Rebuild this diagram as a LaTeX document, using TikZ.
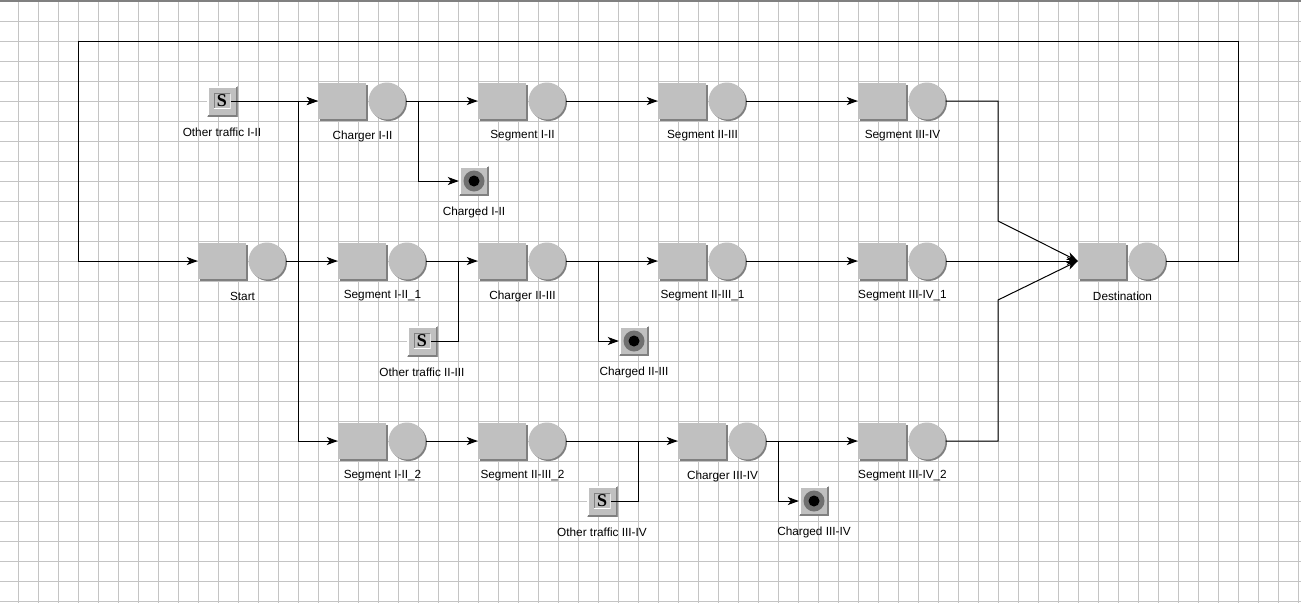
\documentclass[tikz,border=0pt]{standalone}
\usepackage{fontspec}
\setmainfont{Liberation Sans}
\newfontfamily\srcfont{Liberation Serif}
\usetikzlibrary{arrows.meta,shadows}

\definecolor{boxgray}{HTML}{C0C0C0}
\definecolor{shadegray}{HTML}{808080}
\definecolor{gridgray}{HTML}{C4C4C4}
\definecolor{ringgray}{HTML}{707070}

\begin{document}
\begin{tikzpicture}[
  x=1pt, y=-1pt,
  queue/.style={fill=boxgray, minimum width=48pt, minimum height=36pt, inner sep=0pt,
    drop shadow={shadow xshift=2pt, shadow yshift=-2pt, fill=shadegray, opacity=1}},
  server/.style={circle, fill=boxgray, minimum size=37pt, inner sep=0pt,
    drop shadow={shadow xshift=1.5pt, shadow yshift=-1.5pt, fill=shadegray, opacity=1}},
  bevel/.style={fill=boxgray, minimum size=31pt, inner sep=0pt,
    path picture={
      \draw[white, line width=2pt] ([shift={(1pt,1pt)}]path picture bounding box.south west)
        |- ([shift={(-1pt,-1pt)}]path picture bounding box.north east);
      \draw[shadegray, line width=2pt] ([shift={(1pt,1pt)}]path picture bounding box.south west)
        -| ([shift={(-1pt,-1pt)}]path picture bounding box.north east);
    }},
  srcin/.style={fill=boxgray, minimum width=17pt, minimum height=16pt, inner sep=0pt,
    font=\srcfont\bfseries\fontsize{18}{18}\selectfont,
    path picture={
      \draw[shadegray, line width=1pt] ([shift={(0.5pt,0.5pt)}]path picture bounding box.south west)
        |- ([shift={(-0.5pt,-0.5pt)}]path picture bounding box.north east);
      \draw[white, line width=1pt] ([shift={(0.5pt,0.5pt)}]path picture bounding box.south west)
        -| ([shift={(-0.5pt,-0.5pt)}]path picture bounding box.north east);
    }},
  sink/.style={bevel, minimum size=30pt},
  lbl/.style={font=\fontsize{11.8}{13}\selectfont, inner sep=0pt},
  gridline/.style={draw=gridgray, line width=1pt},
  line/.style={line width=1pt},
  flow/.style={line, -{Stealth[length=11pt, width=8pt, inset=3pt]}}
]

% fundo e grade
\fill[white] (0,0) rectangle (1301,603);
\useasboundingbox (0,0) rectangle (1301,603);
\foreach \k in {0,...,64}
  \draw[gridline] (18.5+20*\k,0) -- (18.5+20*\k,603);
\foreach \k in {0,...,29}
  \draw[gridline] (0,21.5+20*\k) -- (1301,21.5+20*\k);
\draw[draw=gray, line width=2pt] (0,1) -- (1301,1);

% filas (caixa + servidor)
\foreach \n/\x/\y/\t in {
  start/198/261/Start,
  charger12/318/101/Charger I-II,
  seg12/478/101/Segment I-II,
  seg23/658/101/Segment II-III,
  seg34/858/101/Segment III-IV,
  seg12a/338/261/Segment I-II\_1,
  charger23/478/261/Charger II-III,
  seg23a/658/261/Segment II-III\_1,
  seg34a/858/261/Segment III-IV\_1,
  dest/1078/261/Destination,
  seg12b/338/441/Segment I-II\_2,
  seg23b/478/441/Segment II-III\_2,
  charger34/678/441/Charger III-IV,
  seg34b/858/441/Segment III-IV\_2
}{
  \node[queue] (\n) at (\x+24,\y) {};
  \node[server] (\n-s) at (\x+69,\y) {};
  \node[lbl] (\n-l) at (\x+44.5,\y+35) {\t};
}

% fontes (outro trafego)
\foreach \n/\x/\y/\t in {
  src12/222/101/Other traffic I-II,
  src23/422/341/Other traffic II-III,
  src34/602/501/Other traffic III-IV
}{
  \node[bevel] (\n) at (\x,\y) {};
  \node[srcin] (\n-i) at (\x,\y) {S};
  \node[lbl] (\n-l) at (\x,\y+31) {\t};
}

% sumidouros (carregados)
\foreach \n/\x/\y/\t in {
  snk12/474/181/Charged I-II,
  snk23/634/341/Charged II-III,
  snk34/814/501/Charged III-IV
}{
  \node[sink] (\n) at (\x,\y) {};
  \fill[ringgray] (\n.center) circle (10.5pt);
  \fill[black] (\n.center) circle (5.5pt);
  \node[lbl] (\n-l) at (\x,\y+31) {\t};
}

% pontos auxiliares
\coordinate (fork1) at (298,261);
\coordinate (tap12) at (418,101);
\coordinate (join23) at (458,261);
\coordinate (tap23) at (598,261);
\coordinate (join34) at (638,441);
\coordinate (tap34) at (778,441);
\coordinate (merge1) at (998,221);
\coordinate (merge2) at (998,300);
\coordinate (loopR) at (1238,41);
\coordinate (loopL) at (78,41);

% ligacoes
\draw[flow] (src12-i) -- (charger12);
\draw[flow] (start-s) -- (seg12a);
\draw[flow] (fork1) |- (charger12);
\draw[flow] (fork1) |- (seg12b);

\draw[flow] (charger12-s) -- (seg12);
\draw[flow] (tap12) |- (snk12);
\draw[flow] (seg12-s) -- (seg23);
\draw[flow] (seg23-s) -- (seg34);
\draw[flow] (seg34-s) -| (merge1) -- (dest.west);

\draw[flow] (seg12a-s) -- (charger23);
\draw[line] (src23-i) -| (join23);
\draw[flow] (charger23-s) -- (seg23a);
\draw[flow] (tap23) |- (snk23);
\draw[flow] (seg23a-s) -- (seg34a);
\draw[flow] (seg34a-s) -- (dest);

\draw[flow] (seg12b-s) -- (seg23b);
\draw[flow] (seg23b-s) -- (charger34);
\draw[line] (src34-i) -| (join34);
\draw[flow] (charger34-s) -- (seg34b);
\draw[flow] (tap34) |- (snk34);
\draw[flow] (seg34b-s) -| (merge2) -- (dest.west);

\draw[flow] (dest-s) -| (loopR) -- (loopL) |- (start);

\end{tikzpicture}
\end{document}
